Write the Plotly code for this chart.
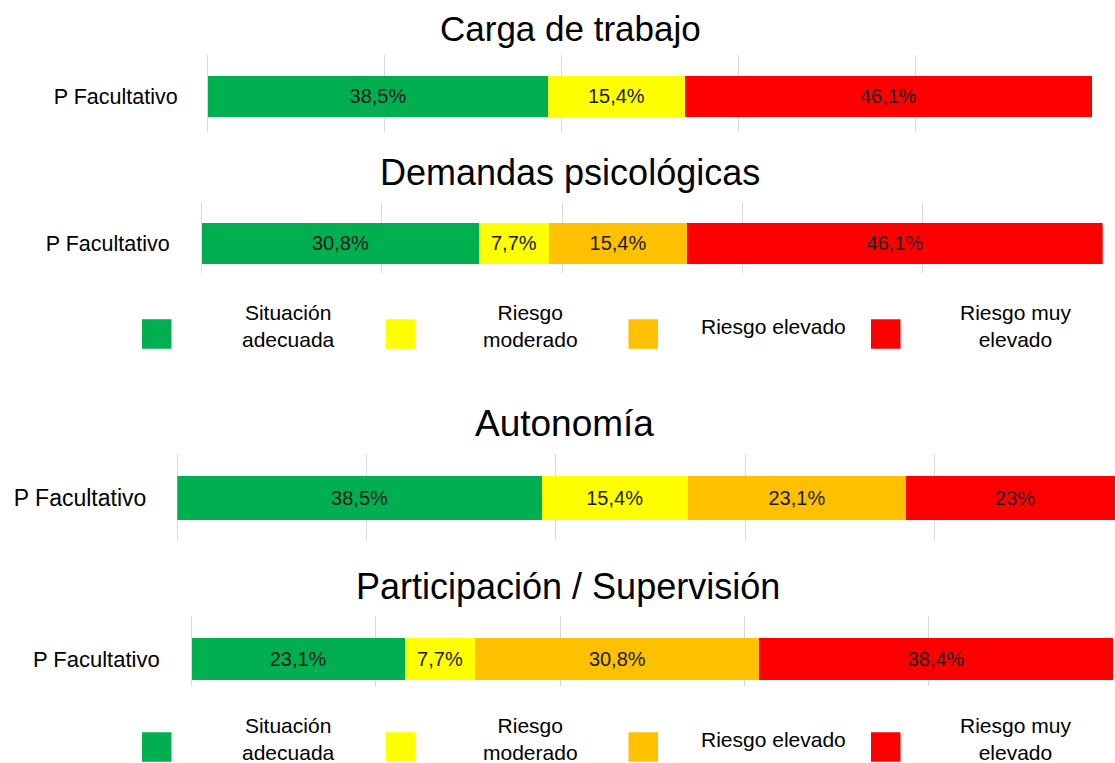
import plotly.graph_objects as go

# ---------------- data ----------------
panel_titles = ["Carga de trabajo", "Demandas psicológicas", "Autonomía", "Participación / Supervisión"]
row_label = "P Facultativo"
categories = ["Situación adecuada", "Riesgo moderado", "Riesgo elevado", "Riesgo muy elevado"]
legend_texts = ["Situación<br>adecuada", "Riesgo<br>moderado", "Riesgo elevado", "Riesgo muy<br>elevado"]
colors = ["#00B050", "#FFFF00", "#FFC000", "#FF0000"]

situacion_adecuada = [38.5, 30.8, 38.5, 23.1]
riesgo_moderado = [15.4, 7.7, 15.4, 7.7]
riesgo_elevado = [None, 15.4, 23.1, 30.8]
riesgo_muy_elevado = [46.1, 46.1, 23.0, 38.4]

lbl_situacion = ["38,5%", "30,8%", "38,5%", "23,1%"]
lbl_moderado = ["15,4%", "7,7%", "15,4%", "7,7%"]
lbl_elevado = ["", "15,4%", "23,1%", "30,8%"]
lbl_muy = ["46,1%", "46,1%", "23%", "38,4%"]

series = [situacion_adecuada, riesgo_moderado, riesgo_elevado, riesgo_muy_elevado]
series_labels = [lbl_situacion, lbl_moderado, lbl_elevado, lbl_muy]

# ---------------- layout geometry (pixels) ----------------
W, H = 1115, 763
# x of 0%, x of 100%, plot top, plot bottom, bar top, bar bottom
panels_px = [
    (207.7, 1092.3, 55.0, 131.7, 76.0, 116.7),
    (201.7, 1102.7, 201.7, 273.3, 222.7, 264.0),
    (177.3, 1124.0, 453.7, 540.3, 475.7, 520.0),
    (191.7, 1113.0, 616.3, 686.3, 638.0, 679.7),
]
label_font = [21.5, 21.5, 23, 22]
label_standoff = [29, 31, 30, 31]
title_pos = [(570, 28, 35), (570, 172, 36), (564, 423, 37), (568, 586, 36)]
legend_rows_y = [334, 747]
legend_square_x = [142, 385.5, 628.5, 871]
legend_text_x = [288, 530, 773, 1015]
SQ = 29.5

FONT = "Liberation Sans, Arial, sans-serif"

fig = go.Figure()
layout = {}
annotations = []
shapes = []

for i, (x0, x100, top, bot, btop, bbot) in enumerate(panels_px):
    n = "" if i == 0 else str(i + 1)
    xa, ya = "x" + n, "y" + n
    right = min(x100, W)
    xmax = 100.0 * (right - x0) / (x100 - x0)
    ppu = bbot - btop
    c = (btop + bbot) / 2.0
    yr = [-(bot - c) / ppu, (c - top) / ppu]
    for s, vals in enumerate(series):
        v = vals[i]
        if v is None:
            continue
        fig.add_trace(go.Bar(
            x=[v], y=[0], orientation="h", width=[1.0],
            marker=dict(color=colors[s], line=dict(width=0)),
            text=[series_labels[s][i]], textposition="inside",
            insidetextanchor="middle", constraintext="none",
            textfont=dict(family=FONT, size=20, color="#1a1a1a"),
            name=categories[s], showlegend=False, hoverinfo="skip",
            xaxis=xa, yaxis=ya,
        ))
    layout["xaxis" + n] = dict(
        domain=[x0 / W, right / W], range=[0, xmax], anchor=ya,
        showgrid=True, gridcolor="#d9d9d9", gridwidth=1, dtick=20, tick0=0,
        zeroline=True, zerolinecolor="#d9d9d9", zerolinewidth=1,
        showticklabels=False, ticks="", showline=False, fixedrange=True,
    )
    layout["yaxis" + n] = dict(
        domain=[1 - bot / H, 1 - top / H], range=yr, anchor=xa,
        tickvals=[0], ticktext=[row_label], ticks="", showgrid=False,
        zeroline=False, showline=False, ticklabelstandoff=label_standoff[i],
        tickfont=dict(family=FONT, size=label_font[i], color="#000000"), fixedrange=True,
    )
    tx, ty, ts = title_pos[i]
    annotations.append(dict(
        text=panel_titles[i], x=tx / W, y=1 - ty / H, xref="paper", yref="paper",
        xanchor="center", yanchor="middle", showarrow=False,
        font=dict(family=FONT, size=ts, color="#000000"),
    ))

# legends (two identical rows)
for ly in legend_rows_y:
    for k in range(4):
        sx = legend_square_x[k]
        shapes.append(dict(
            type="rect", xref="paper", yref="paper",
            x0=sx / W, x1=(sx + SQ) / W,
            y0=1 - (ly + SQ / 2) / H, y1=1 - (ly - SQ / 2) / H,
            fillcolor=colors[k], line=dict(width=0),
        ))
        annotations.append(dict(
            text=legend_texts[k], x=legend_text_x[k] / W, y=1 - (ly - 8) / H,
            xref="paper", yref="paper", xanchor="center", yanchor="middle",
            showarrow=False, align="center",
            font=dict(family=FONT, size=21, color="#000000"),
        ))

fig.update_layout(
    width=W, height=H, autosize=False,
    margin=dict(l=0, r=0, t=0, b=0, pad=0),
    paper_bgcolor="white", plot_bgcolor="white",
    barmode="stack", bargap=0, showlegend=False,
    annotations=annotations, shapes=shapes,
    font=dict(family=FONT),
    **layout,
)

fig.write_html(
    "out.html",
    config={"displayModeBar": False, "staticPlot": True},
    post_script="document.body.style.margin='0';document.body.style.overflow='hidden';",
)
